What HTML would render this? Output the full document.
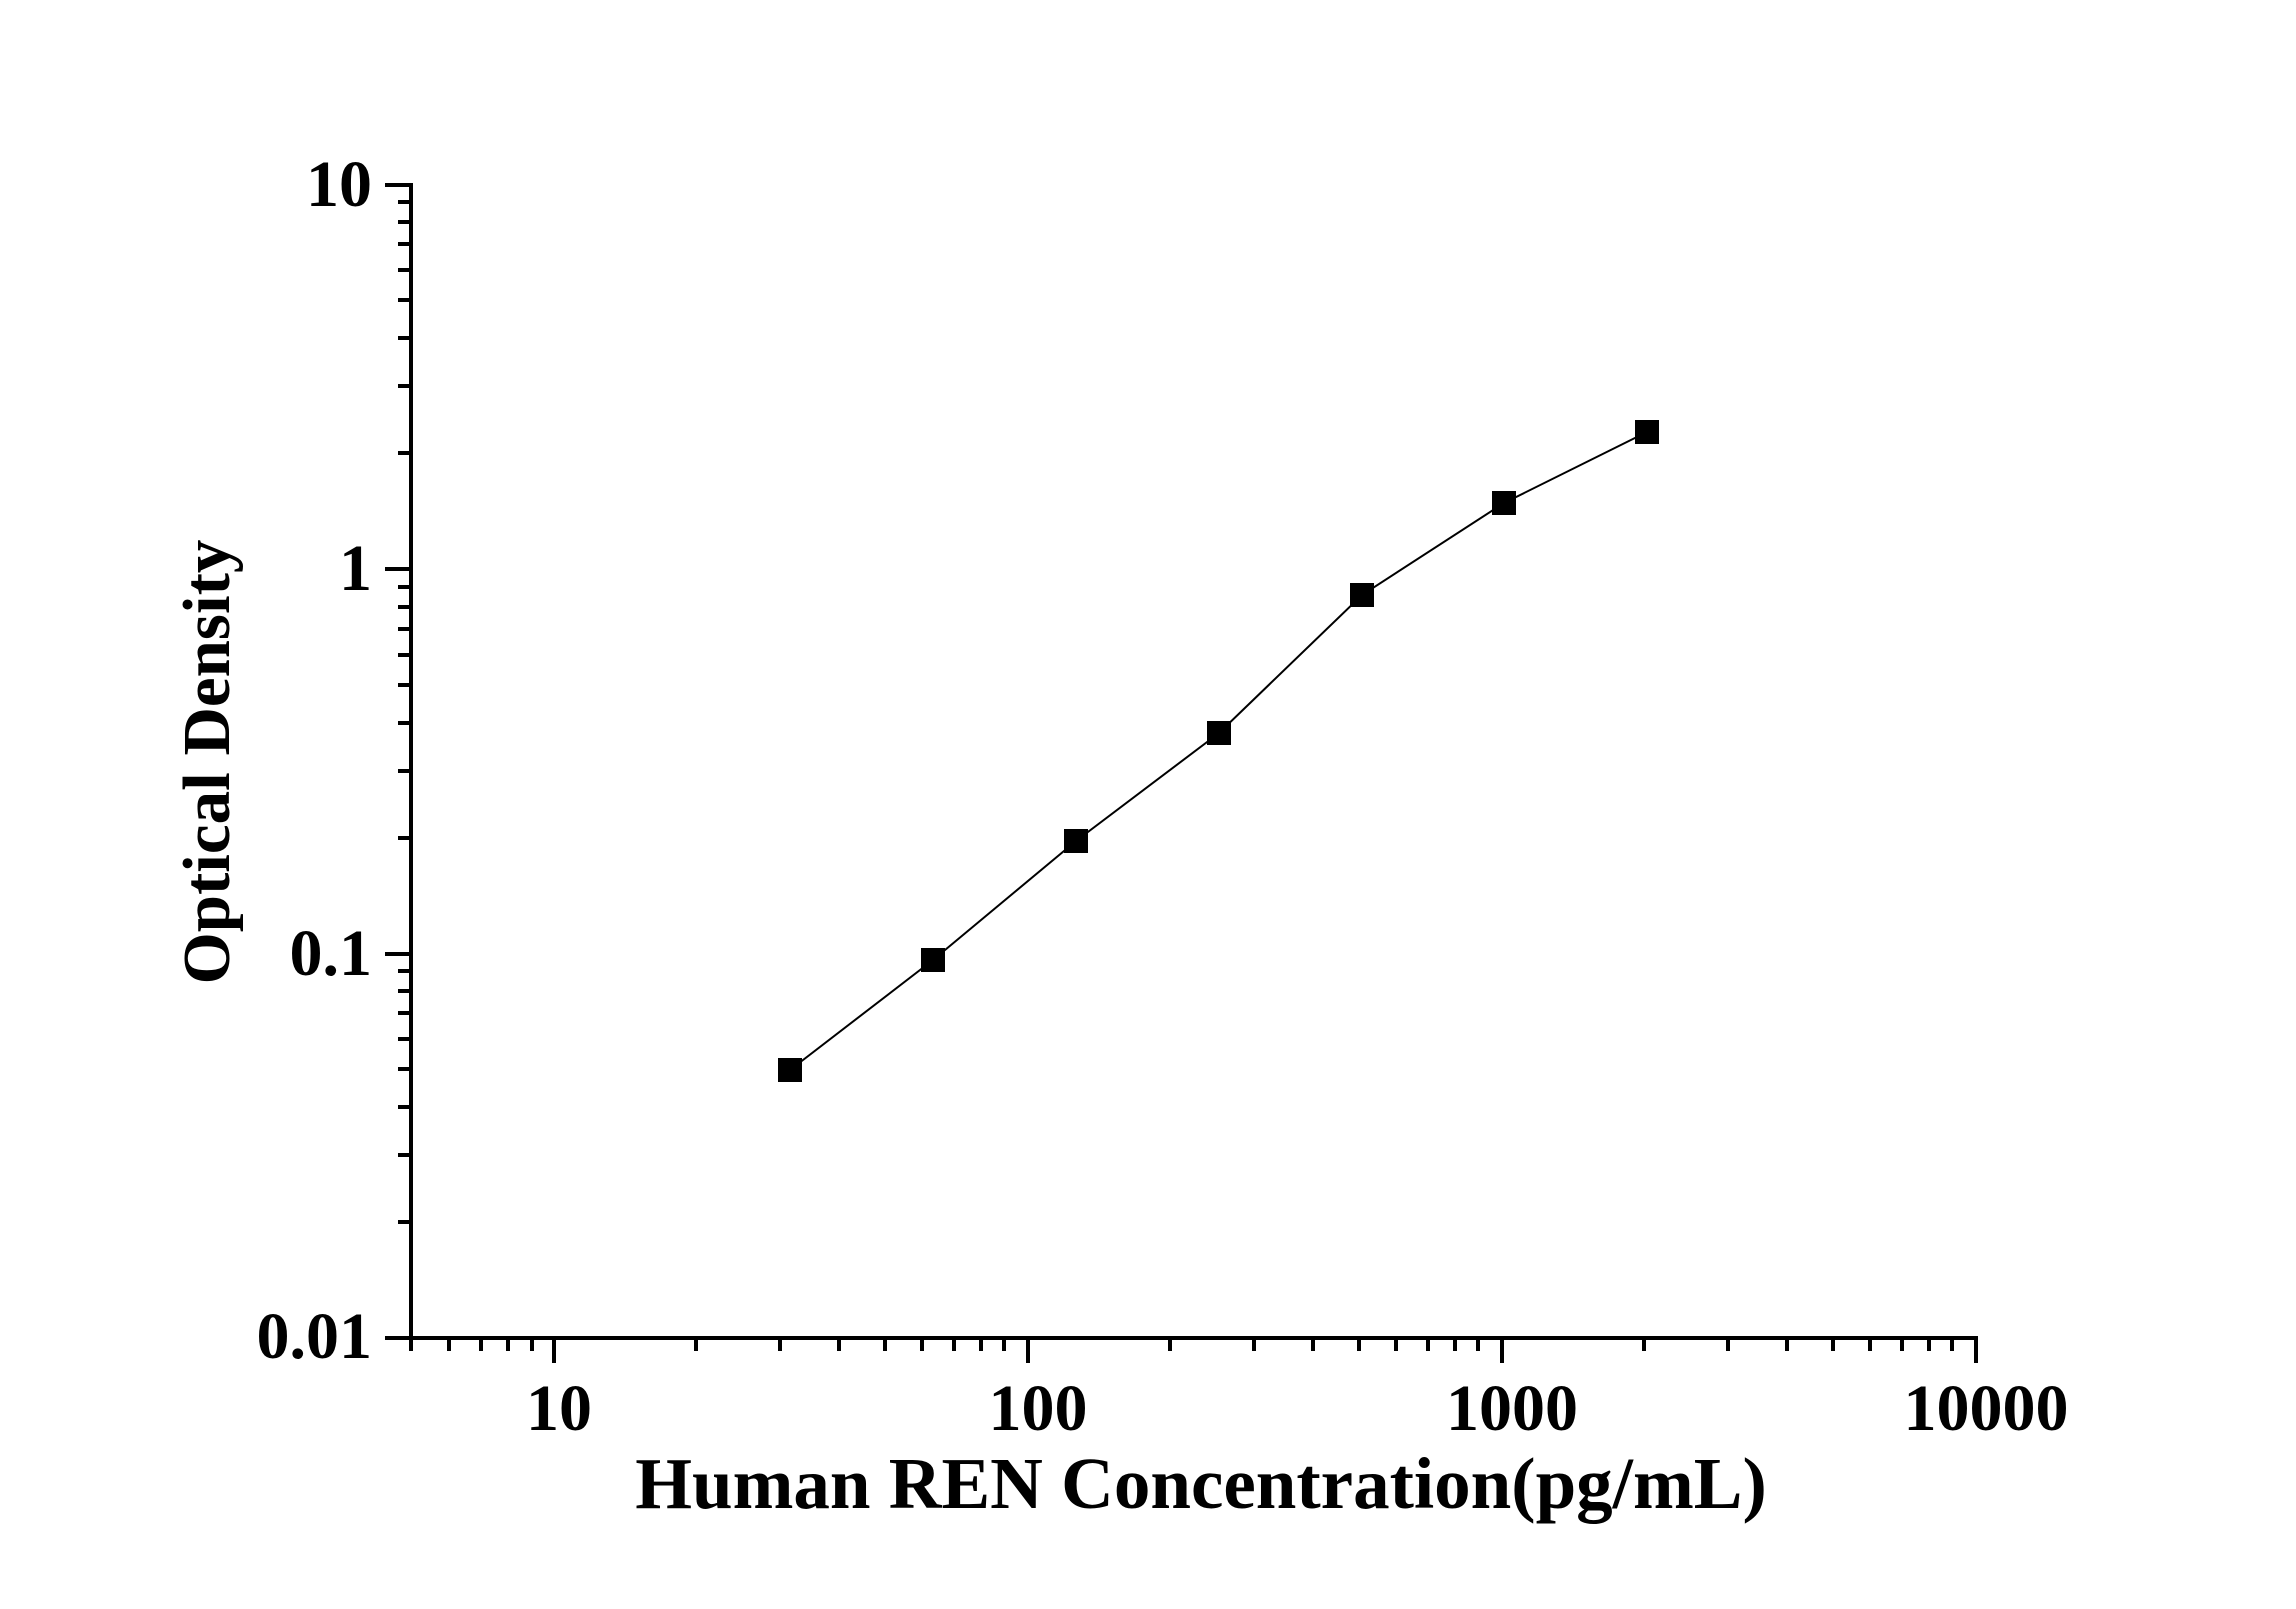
<!DOCTYPE html>
<html><head><meta charset="utf-8"><style>body{margin:0;background:#fff}</style></head><body>
<svg width="2296" height="1604" xmlns="http://www.w3.org/2000/svg" font-family="Liberation Serif, serif" font-weight="bold">
<rect width="2296" height="1604" fill="#fff"/>
<g stroke="#000" stroke-width="4" fill="none">
<path d="M411,183 V1338 H1976 V1363"/>
<path d="M385,185H411 M385,569H411 M385,954H411 M385,1338H411"/>
<path d="M554,1338V1363 M1028,1338V1363 M1502,1338V1363 M411,1338V1351"/>
<path id="ym" d="M398,1222H411 M398,1155H411 M398,1107H411 M398,1069H411 M398,1039H411 M398,1013H411 M398,991H411 M398,971H411"/>
<use href="#ym" transform="translate(0,-384)"/>
<use href="#ym" transform="translate(0,-769)"/>
<path d="M449,1338V1351 M481,1338V1351 M508,1338V1351 M532,1338V1351"/>
<path id="xm" d="M696,1338V1351 M780,1338V1351 M839,1338V1351 M885,1338V1351 M922,1338V1351 M954,1338V1351 M981,1338V1351 M1004,1338V1351"/>
<use href="#xm" transform="translate(474,0)"/>
<use href="#xm" transform="translate(948,0)"/>
</g>
<polyline fill="none" stroke="#000" stroke-width="2" points="790,1070 933,960 1076,841 1219,733 1362,595 1504,503 1647,432"/>
<g fill="#000">
<rect x="778" y="1058" width="24" height="24"/><rect x="921" y="948" width="24" height="24"/>
<rect x="1064" y="829" width="24" height="24"/><rect x="1207" y="721" width="24" height="24"/>
<rect x="1350" y="583" width="24" height="24"/><rect x="1492" y="491" width="24" height="24"/>
<rect x="1635" y="420" width="24" height="24"/>
</g>
<g font-size="66" text-anchor="end">
<text x="372" y="206">10</text><text x="372" y="590">1</text>
<text x="372" y="975">0.1</text><text x="372" y="1358">0.01</text>
</g>
<g font-size="66" text-anchor="middle">
<text x="559" y="1430">10</text><text x="1038" y="1430">100</text>
<text x="1512" y="1430">1000</text><text x="1986" y="1430">10000</text>
</g>
<text x="1201" y="1508" font-size="73" text-anchor="middle">Human REN Concentration(pg/mL)</text>
<text transform="translate(229,762) rotate(-90)" font-size="67" text-anchor="middle">Optical Density</text>
</svg>
</body></html>
